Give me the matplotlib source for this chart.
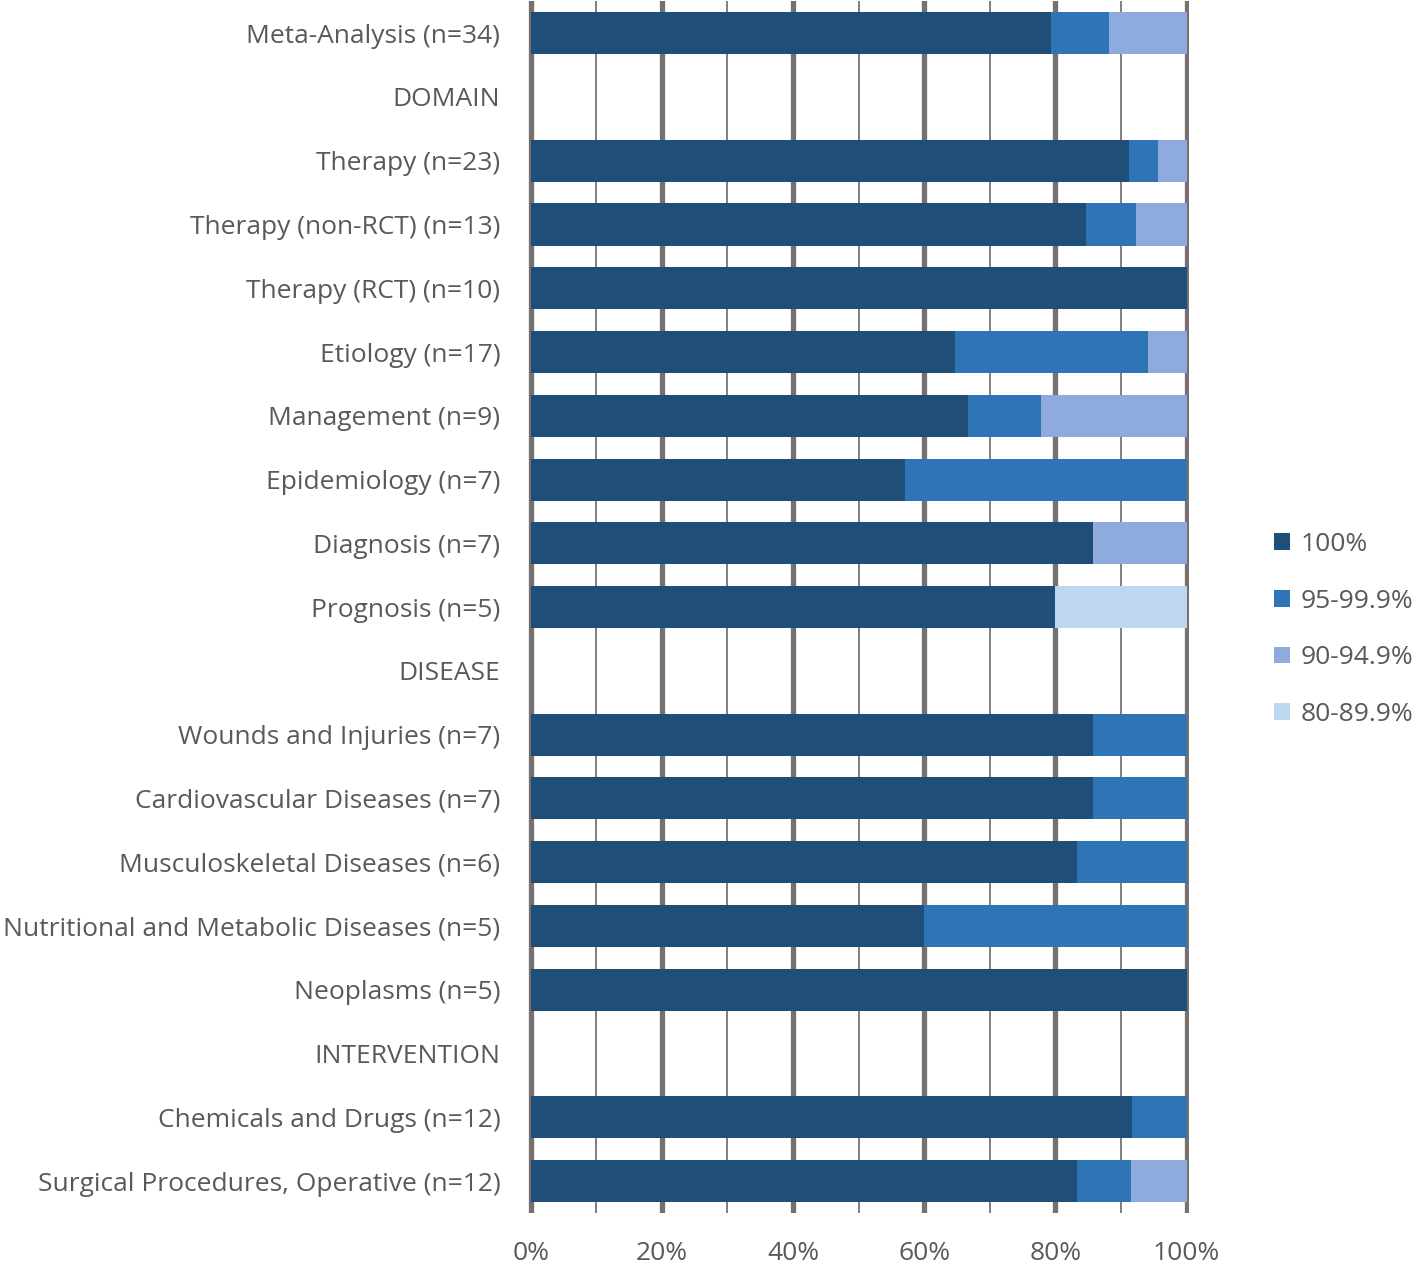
import numpy as np
import matplotlib.pyplot as plt
from matplotlib.patches import Patch

# Categories top to bottom (blank rows are the section headers)
labels = ['Meta-Analysis (n=34)', 'DOMAIN', 'Therapy (n=23)', 'Therapy (non-RCT) (n=13)',
          'Therapy (RCT) (n=10)', 'Etiology (n=17)', 'Management (n=9)', 'Epidemiology (n=7)',
          'Diagnosis (n=7)', 'Prognosis (n=5)', 'DISEASE', 'Wounds and Injuries (n=7)',
          'Cardiovascular Diseases (n=7)', 'Musculoskeletal Diseases (n=6)',
          'Nutritional and Metabolic Diseases (n=5)', 'Neoplasms (n=5)', 'INTERVENTION',
          'Chemicals and Drugs (n=12)', 'Surgical Procedures, Operative (n=12)']

# shares in percent
p100 = [79.4, 0, 91.3, 84.6, 100, 64.7, 66.7, 57.1, 85.7, 80, 0, 85.7, 85.7, 83.3, 60, 100, 0, 91.7, 83.3]
p95 = [8.8, 0, 4.3, 7.7, 0, 29.4, 11.1, 42.9, 0, 0, 0, 14.3, 14.3, 16.7, 40, 0, 0, 8.3, 8.3]
p90 = [11.8, 0, 4.4, 7.7, 0, 5.9, 22.2, 0, 14.3, 0, 0, 0, 0, 0, 0, 0, 0, 0, 8.4]
p80 = [0, 0, 0, 0, 0, 0, 0, 0, 0, 20, 0, 0, 0, 0, 0, 0, 0, 0, 0]

series = [('100%', p100, '#1F4E79'), ('95-99.9%', p95, '#2E75B6'),
          ('90-94.9%', p90, '#8FAADC'), ('80-89.9%', p80, '#BDD7EE')]

fam = ['Open Sans', 'DejaVu Sans']
fs = 19

fig = plt.figure(figsize=(14.18, 12.64), dpi=100)
ax = fig.add_axes([0.3724, 0.0404, 0.4662, 0.9586])
plt.rcParams['font.family'] = fam

y = np.arange(len(labels))
# gridlines
for v in range(10, 100, 20):
    ax.axvline(v, color='#7f7f7f', lw=1.4, zorder=0)
for v in range(0, 101, 20):
    ax.axvline(v, color='#767171', lw=3.8, zorder=0)

left = np.zeros(len(labels))
handles = []
for name, vals, col in series:
    vals = np.array(vals, dtype=float)
    ax.barh(y, vals, left=left, height=0.66, color=col, zorder=2)
    left += vals
    handles.append(Patch(facecolor=col, label=name))

ax.set_ylim(len(labels) - 0.5, -0.5)
ax.set_xlim(-0.4, 100.4)
ax.set_yticks(y)
ax.set_yticklabels(labels, fontsize=fs, color='#595959', family=fam)
ax.set_xticks(range(0, 101, 20))
ax.set_xticklabels([f'{v}%' for v in range(0, 101, 20)], fontsize=fs, color='#595959', family=fam)
ax.tick_params(axis='y', length=0, pad=20)
ax.tick_params(axis='x', length=0, pad=20)
for s in ax.spines.values():
    s.set_visible(False)

leg = fig.legend(handles=handles, loc='center left', bbox_to_anchor=(0.882, 0.502),
                 frameon=False, handlelength=0.6, handleheight=0.6,
                 handletextpad=0.4, labelspacing=1.2,
                 prop={'family': fam, 'size': fs})
for t in leg.get_texts():
    t.set_color('#595959')

fig.savefig('out.png', dpi=100)
